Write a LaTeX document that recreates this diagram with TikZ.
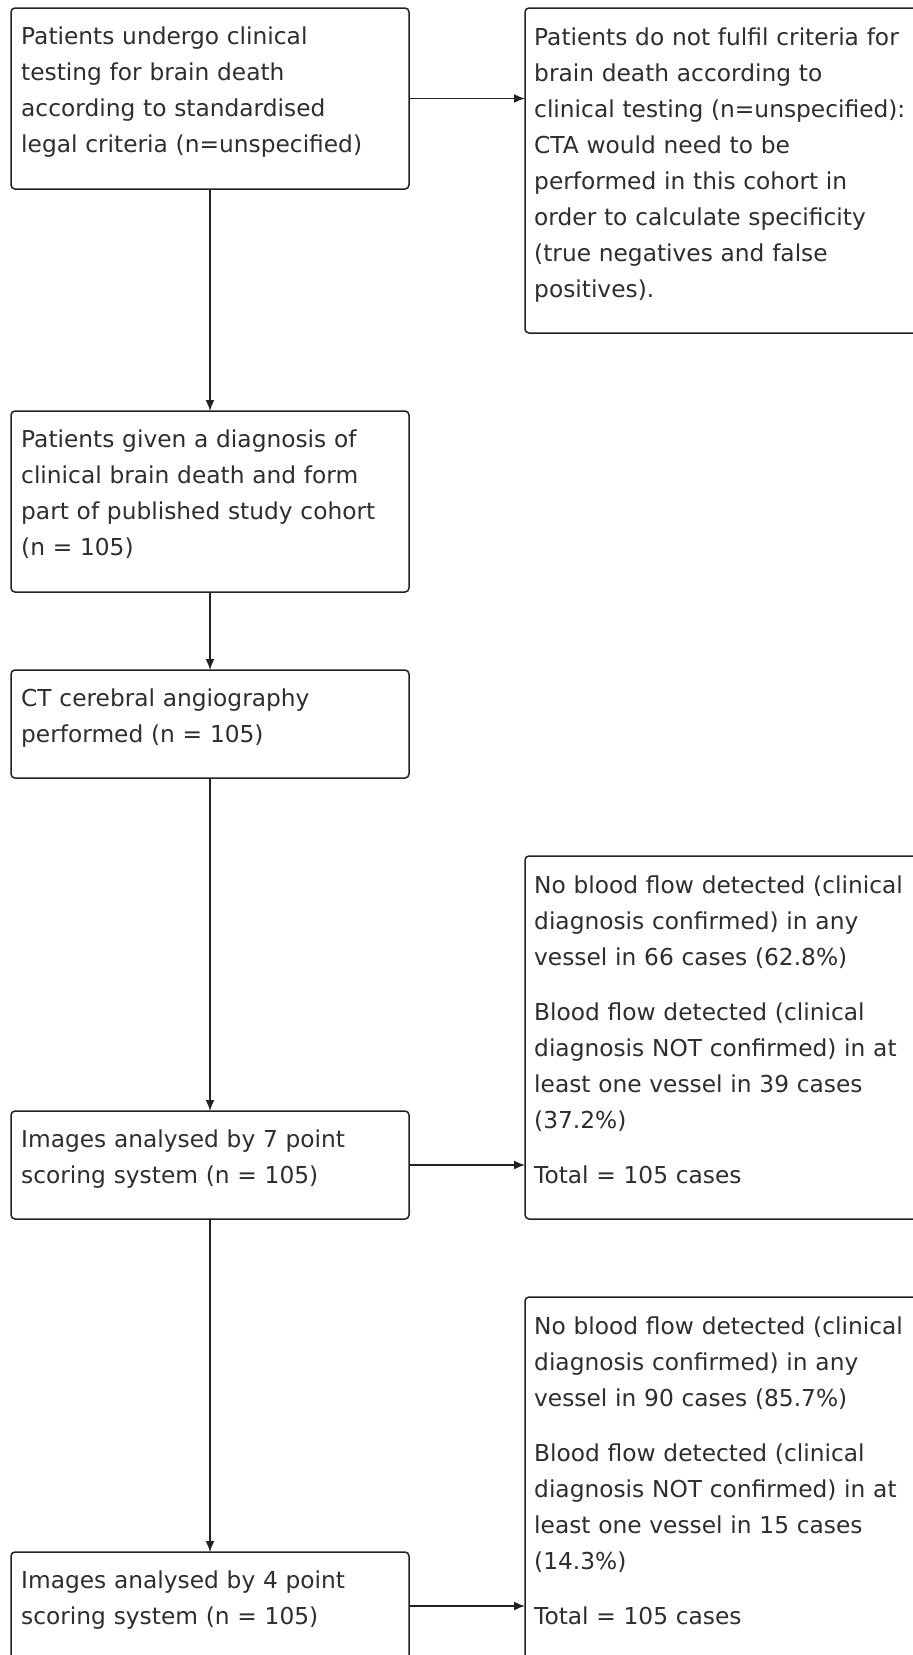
\documentclass[tikz,border=0pt]{standalone}
\usepackage{fontspec}
\setmainfont{DejaVu Sans}
\usetikzlibrary{arrows.meta}
\definecolor{ln}{HTML}{222222}
\definecolor{tx}{HTML}{2E2E2E}
\newcommand{\fstrut}{\rule{0pt}{20pt}}
\begin{document}
\begin{tikzpicture}[x=1pt,y=-1pt,
  box/.style={draw=ln, line width=1.5pt, rounded corners=4pt, inner sep=0pt, outer sep=0pt, anchor=north west},
  txt/.style={text=tx, font=\fontsize{23.3}{36}\selectfont, align=left, text width=400pt, inner sep=0pt, anchor=north west},
  arr/.style={draw=ln, line width=1.6pt, -{Latex[length=11pt,width=9pt]}}]
\clip (0,0) rectangle (913,1655);
\fill[white] (0,0) rectangle (913,1655);
% boxes
\node[box, minimum width=398pt, minimum height=181pt] (b1) at (11,8) {};
\node[box, minimum width=420pt, minimum height=325pt] (b2) at (525,8) {};
\node[box, minimum width=398pt, minimum height=181pt] (b3) at (11,411) {};
\node[box, minimum width=398pt, minimum height=108pt] (b4) at (11,670) {};
\node[box, minimum width=398pt, minimum height=108pt] (b5) at (11,1111) {};
\node[box, minimum width=398pt, minimum height=108pt] (b6) at (11,1552) {};
\node[box, minimum width=420pt, minimum height=363pt] (r1) at (525,856) {};
\node[box, minimum width=420pt, minimum height=363pt] (r2) at (525,1297) {};
% texts
\node[txt] (t1) at (21,24) {\fstrut Patients undergo clinical\\testing for brain death\\according to standardised\\legal criteria (n=unspecified)};
\node[txt] (t2) at (534,25) {\fstrut Patients do not fulfil criteria for\\brain death according to\\clinical testing (n=unspecified):\\CTA would need to be\\performed in this cohort in\\order to calculate specificity\\(true negatives and false\\positives).};
\node[txt] (t3) at (21,427) {\fstrut Patients given a diagnosis of\\clinical brain death and form\\part of published study cohort\\(n = 105)};
\node[txt] (t4) at (21,686) {\fstrut CT cerebral angiography\\performed (n = 105)};
\node[txt] (t5) at (21,1127) {\fstrut Images analysed by 7 point\\scoring system (n = 105)};
\node[txt] (t6) at (21,1568) {\fstrut Images analysed by 4 point\\scoring system (n = 105)};
\node[txt] (tr1) at (534,873) {\fstrut No blood flow detected (clinical\\diagnosis confirmed) in any\\vessel in 66 cases (62.8\%)\\[19pt]Blood flow detected (clinical\\diagnosis NOT confirmed) in at\\least one vessel in 39 cases\\(37.2\%)\\[19pt]Total = 105 cases};
\node[txt] (tr2) at (534,1314) {\fstrut No blood flow detected (clinical\\diagnosis confirmed) in any\\vessel in 90 cases (85.7\%)\\[19pt]Blood flow detected (clinical\\diagnosis NOT confirmed) in at\\least one vessel in 15 cases\\(14.3\%)\\[19pt]Total = 105 cases};
% connectors
\draw[arr] (b1.east) -- (b1.east -| b2.west);
\draw[arr] (b1.south) -- (b3.north);
\draw[arr] (b3.south) -- (b4.north);
\draw[arr] (b4.south) -- (b5.north);
\draw[arr] (b5.south) -- (b6.north);
\draw[arr] (b5.east) -- (b5.east -| r1.west);
\draw[arr] (b6.east) -- (b6.east -| r2.west);
\end{tikzpicture}
\end{document}
